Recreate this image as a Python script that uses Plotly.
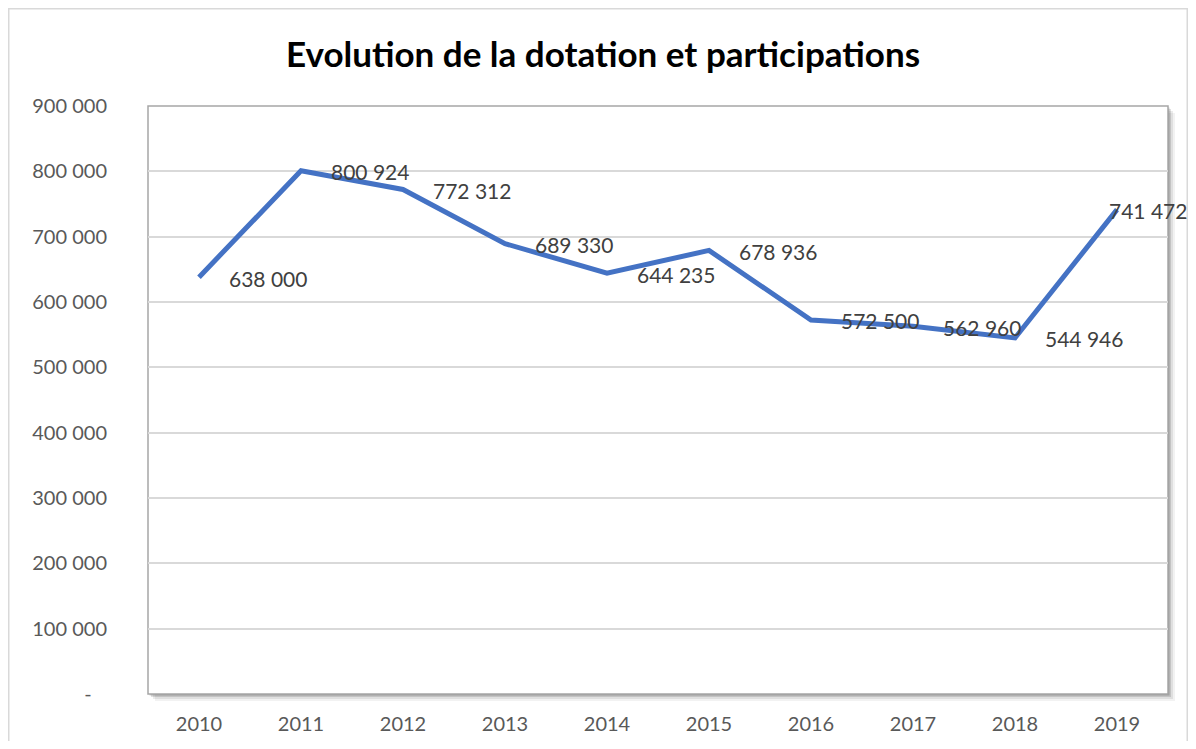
import plotly.graph_objects as go

years = ["2010", "2011", "2012", "2013", "2014", "2015", "2016", "2017", "2018", "2019"]
values = [638000, 800924, 772312, 689330, 644235, 678936, 572500, 562960, 544946, 741472]
ytick_vals = [0, 100000, 200000, 300000, 400000, 500000, 600000, 700000, 800000, 900000]
ytick_text = ["-\u00a0\u00a0\u00a0", "100 000", "200 000", "300 000", "400 000", "500 000",
              "600 000", "700 000", "800 000", "900 000"]
title = "Evolution de la dotation et participations"

FONT = "Lato"
OFF = 8  # page body margin
W, H = 1196 - 2 * OFF, 749 - 2 * OFF
L, T = 148 - OFF, 106 - OFF
R, B = W - (1168 - OFF), H - (694 - OFF)

fig = go.Figure()
fig.add_trace(go.Scatter(
    x=years, y=values, mode="lines",
    line=dict(color="#4472C4", width=5, shape="linear"),
    hoverinfo="x+y", showlegend=False,
))

def fmt(v):
    return f"{v:,}".replace(",", " ")

annotations = []
for i, (yr, v) in enumerate(zip(years, values)):
    xs = 28 if i < len(years) - 1 else -10
    annotations.append(dict(
        x=i, y=v, xref="x", yref="y", text=fmt(v), showarrow=False,
        xanchor="left", yanchor="middle", xshift=xs, yshift=-1,
        font=dict(family=FONT, size=21, color="#404040"),
    ))

pw, ph = W - L - R, H - T - B
shapes = []
# outer chart border
shapes.append(dict(type="rect", xref="paper", yref="paper",
                   x0=(0.75 - L) / pw, x1=(W - 0.75 - L) / pw,
                   y0=-(B + 20) / ph, y1=1 + (T - 0.75) / ph,
                   line=dict(color="#D9D9D9", width=1.5), fillcolor="rgba(0,0,0,0)",
                   layer="below"))
# soft shadow of plot area
for k, op in [(7, 0.05), (5, 0.08), (3, 0.12), (1.5, 0.18)]:
    shapes.append(dict(type="rect", xref="paper", yref="paper",
                       x0=k / pw, x1=1 + k / pw, y0=-k / ph, y1=1 - k / ph,
                       line=dict(width=0), fillcolor=f"rgba(0,0,0,{op})", layer="below"))
shapes.append(dict(type="rect", xref="paper", yref="paper", x0=0, x1=1, y0=0, y1=1,
                   line=dict(color="#A6A6A6", width=1.5), fillcolor="white", layer="below"))

fig.update_layout(
    width=W, height=H,
    margin=dict(l=L, r=R, t=T, b=B, pad=0, autoexpand=False),
    paper_bgcolor="white", plot_bgcolor="rgba(0,0,0,0)",
    title=dict(text=f"<b>{title}</b>", x=(603 - OFF) / W, xanchor="center",
               y=1 - (55 - OFF) / H, yanchor="middle",
               font=dict(family=FONT, size=35, color="#000000")),
    font=dict(family=FONT, size=20, color="#595959"),
    annotations=annotations, shapes=shapes,
    xaxis=dict(type="category", range=[-0.5, len(years) - 0.5], autorange=False,
               showgrid=False, zeroline=False, showline=False, automargin=False,
               ticks="", tickfont=dict(family=FONT, size=20, color="#595959"),
               ticklabelstandoff=16, fixedrange=True),
    yaxis=dict(range=[0, 900000], autorange=False, tickvals=ytick_vals, ticktext=ytick_text,
               showgrid=True, gridcolor="#D9D9D9", gridwidth=1.5, zeroline=False,
               showline=False, ticks="", automargin=False,
               tickfont=dict(family=FONT, size=20, color="#595959"),
               ticklabelstandoff=40, fixedrange=True),
)

fig.write_html("out.html")
